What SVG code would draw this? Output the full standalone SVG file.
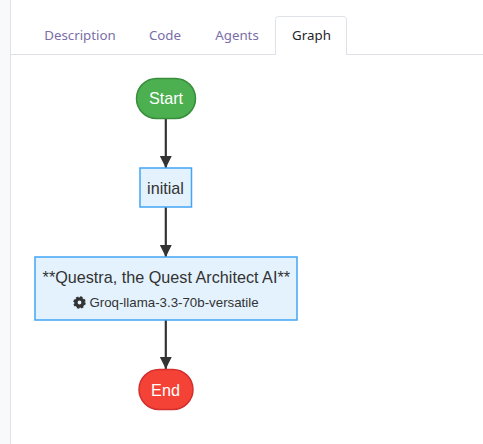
<svg xmlns="http://www.w3.org/2000/svg" width="483" height="444" viewBox="0 0 483 444">
<defs>
<marker id="arrow" markerUnits="userSpaceOnUse" markerWidth="14" markerHeight="14" refX="12.500" refY="7" orient="auto">
<path d="M0,0.800 L12.500,7 L0,13.200 Z" fill="#333333"/>
</marker>
</defs>
<style>
.tab{font-family:"Noto Sans","Open Sans",sans-serif;font-size:13.3px;fill:#7a6ea8;text-anchor:middle}
.node{font-family:"Liberation Sans",Arial,sans-serif;text-anchor:middle}
.box{fill:#e3f2fd;stroke:#42a5f5;stroke-width:1.5}
.edge{stroke:#333333;stroke-width:2.2;fill:none;marker-end:url(#arrow)}
</style>
<rect width="483" height="444" fill="#ffffff"/>
<rect x="0" y="0" width="10" height="444" fill="#f8f9fa"/>
<rect x="10" y="0" width="1" height="444" fill="#dee2e6"/>
<rect x="11" y="54" width="472" height="1" fill="#dee2e6"/>
<g id="tabs">
<path d="M275.5,54.5 V19.5 a3,3 0 0 1 3,-3 H343.5 a3,3 0 0 1 3,3 V54.5" fill="#ffffff" stroke="#dee2e6"/>
<rect x="276" y="53" width="70" height="3" fill="#ffffff"/>
<text class="tab" x="80" y="40">Description</text>
<text class="tab" x="165" y="40">Code</text>
<text class="tab" x="237" y="40">Agents</text>
<text class="tab" x="311.500" y="40" style="fill:#1f2328">Graph</text>
</g>
<g id="connectors">
<line class="edge" x1="165.800" y1="118" x2="165.800" y2="168"/>
<line class="edge" x1="165.800" y1="207" x2="165.800" y2="257"/>
<line class="edge" x1="165.800" y1="320" x2="165.800" y2="369"/>
</g>
<g id="start">
<rect x="136.500" y="78.500" width="59" height="40" rx="20" ry="20" fill="#4caf50" stroke="#388e3c" stroke-width="1.5"/>
<text class="node" x="166" y="104" font-size="16.200" fill="#ffffff">Start</text>
</g>
<g id="initial">
<rect class="box" x="140" y="168" width="51.500" height="39"/>
<text class="node" x="165.500" y="193.500" font-size="16.200" fill="#333333">initial</text>
</g>
<g id="questra">
<rect class="box" x="35" y="257" width="262" height="63"/>
<text class="node" x="166.300" y="283" font-size="16.200" fill="#333333">**Questra, the Quest Architect AI**</text>
<g transform="translate(79.500,302.500)">
<circle r="3.600" fill="none" stroke="#333333" stroke-width="3.400"/>
<circle r="5.200" fill="none" stroke="#333333" stroke-width="2" stroke-dasharray="2.400 1.684"/>
</g>
<text class="node" x="174" y="307" font-size="13.300" fill="#333333">Groq-llama-3.3-70b-versatile</text>
</g>
<g id="end">
<rect x="139" y="369.500" width="54" height="40" rx="20" ry="20" fill="#f44336" stroke="#d32f2f" stroke-width="1.5"/>
<text class="node" x="165.500" y="396" font-size="16.200" fill="#ffffff">End</text>
</g>
</svg>
